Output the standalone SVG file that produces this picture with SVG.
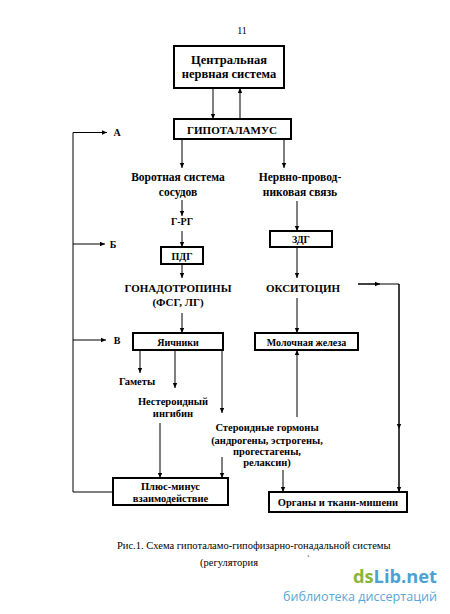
<svg xmlns="http://www.w3.org/2000/svg" width="450" height="614" viewBox="0 0 450 614">
<defs>
<marker id="ah" markerWidth="6" markerHeight="6" refX="5" refY="3" orient="auto" markerUnits="userSpaceOnUse">
<path d="M0,0.8 L5,3 L0,5.2 Z" fill="#000"/>
</marker>
<marker id="mid" markerWidth="6" markerHeight="6" refX="3" refY="3" orient="auto" markerUnits="userSpaceOnUse">
<path d="M0,0.8 L5,3 L0,5.2 Z" fill="#000"/>
</marker>
</defs>
<style>
.box{fill:#fff;stroke:#000;stroke-width:2}
.t{font-family:"Liberation Serif","Times New Roman",serif;font-weight:bold;fill:#000;text-anchor:middle}
.c{stroke:#000;stroke-width:1;fill:none}
.a{stroke:#000;stroke-width:1;fill:none;marker-end:url(#ah)}
.cap{font-family:"Liberation Serif","Times New Roman",serif;fill:#000}
</style>
<rect width="450" height="614" fill="#fff"/>
<text class="cap" x="242" y="34" font-size="10" text-anchor="middle">11</text>

<g id="connectors">
<line class="a" x1="213" y1="88" x2="213" y2="119"/>
<line class="a" x1="240" y1="119" x2="240" y2="88"/>
<line class="a" x1="182" y1="139" x2="182" y2="168"/>
<line class="a" x1="284" y1="139" x2="284" y2="168"/>
<line class="a" x1="182" y1="200" x2="182" y2="216"/>
<line class="a" x1="182" y1="231" x2="182" y2="247"/>
<line class="a" x1="297" y1="201" x2="297" y2="231"/>
<line class="a" x1="182" y1="264" x2="182" y2="278"/>
<line class="a" x1="182" y1="313" x2="182" y2="333"/>
<line class="a" x1="297" y1="247" x2="297" y2="278"/>
<line class="a" x1="297" y1="298" x2="297" y2="333"/>
<path class="c" d="M358,284 H399 V492" />
<path class="c" d="M358,284 H380" marker-end="url(#ah)"/>
<path class="c" d="M399,284 V429" marker-end="url(#ah)"/>
<path class="c" d="M399,429 V492" marker-end="url(#ah)"/>
<path class="c" d="M107,132.5 H73 V492 H113"/>
<line class="a" x1="73" y1="132.5" x2="107" y2="132.5"/>
<line class="a" x1="73" y1="244" x2="105" y2="244"/>
<line class="a" x1="73" y1="340" x2="106" y2="340"/>
<line class="a" x1="140" y1="350" x2="140" y2="373"/>
<line class="a" x1="175" y1="350" x2="175" y2="388"/>
<line class="a" x1="222" y1="350" x2="222" y2="413"/>
<line class="a" x1="160" y1="423" x2="160" y2="478"/>
<line class="a" x1="222" y1="457" x2="222" y2="478"/>
<line class="a" x1="283" y1="470" x2="283" y2="492"/>
<line class="a" x1="297" y1="417" x2="297" y2="350"/>
</g>

<g id="cns"><rect class="box" x="174" y="46" width="110" height="42"/>
<text class="t" x="229" y="64" font-size="12.5">Центральная</text>
<text class="t" x="229" y="78" font-size="12.5">нервная система</text></g>

<g id="hypothalamus"><rect class="box" x="174" y="119" width="117" height="20"/>
<text class="t" x="232" y="134" font-size="11">ГИПОТАЛАМУС</text></g>

<g id="labelA"><text class="t" x="117" y="136" font-size="10">А</text></g>
<g id="labelB"><text class="t" x="113" y="248" font-size="10">Б</text></g>
<g id="labelV"><text class="t" x="117" y="344" font-size="10">В</text></g>

<g id="portal"><text class="t" x="178" y="181" font-size="11.5">Воротная система</text>
<text class="t" x="178" y="196" font-size="11.5">сосудов</text></g>
<g id="nerve"><text class="t" x="300" y="181" font-size="11.5">Нервно-провод-</text>
<text class="t" x="300" y="196" font-size="11.5">никовая связь</text></g>

<g id="grg"><text class="t" x="182" y="225" font-size="10">Г-РГ</text></g>

<g id="pdg"><rect class="box" x="161" y="247" width="42" height="17"/>
<text class="t" x="182" y="259.5" font-size="10">ПДГ</text></g>

<g id="zdg"><rect class="box" x="270" y="231" width="62" height="16"/>
<text class="t" x="301" y="243" font-size="10">ЗДГ</text></g>

<g id="gonadotropins"><text class="t" x="178" y="292" font-size="11">ГОНАДОТРОПИНЫ</text>
<text class="t" x="178" y="306" font-size="11">(ФСГ, ЛГ)</text></g>

<g id="oxytocin"><text class="t" x="303" y="292" font-size="11">ОКСИТОЦИН</text></g>

<g id="ovaries"><rect class="box" x="133" y="333" width="90" height="17"/>
<text class="t" x="178" y="345.5" font-size="10">Яичники</text></g>

<g id="mammary"><rect class="box" x="255" y="333" width="103" height="17"/>
<text class="t" x="306.5" y="345.5" font-size="10">Молочная железа</text></g>

<g id="gametes"><text class="t" x="137" y="385" font-size="10.5">Гаметы</text></g>

<g id="inhibin"><text class="t" x="173" y="405" font-size="10.5">Нестероидный</text>
<text class="t" x="173" y="417" font-size="10.5">ингибин</text></g>

<g id="steroids"><text class="t" x="267" y="431" font-size="10.5">Стероидные гормоны</text>
<text class="t" x="267" y="444" font-size="10.5">(андрогены, эстрогены,</text>
<text class="t" x="267" y="455" font-size="10.5">прогестагены,</text>
<text class="t" x="267" y="466" font-size="10.5">релаксин)</text></g>

<g id="plusminus"><rect class="box" x="113" y="478" width="115" height="27"/>
<text class="t" x="170.5" y="490" font-size="10.5">Плюс-минус</text>
<text class="t" x="170.5" y="502" font-size="10.5">взаимодействие</text></g>

<g id="organs"><rect class="box" x="269" y="492" width="138" height="20"/>
<text class="t" x="338" y="506" font-size="10.5">Органы и ткани-мишени</text></g>

<g id="caption">
<text class="cap" x="117" y="549" font-size="10.5">Рис.1. Схема гипоталамо-гипофизарно-гонадальной системы</text>
<text class="cap" x="200" y="566" font-size="10.5">(регулятория</text>
<text class="cap" x="307" y="562" font-size="8">`</text>
</g>

<g id="watermark">
<text x="353" y="583" font-family="'Open Sans','Noto Sans',sans-serif" font-weight="bold" font-size="18" textLength="84" lengthAdjust="spacingAndGlyphs"><tspan fill="#8cb43c">ds</tspan><tspan fill="#4aa2d3">Lib.net</tspan></text>
<text x="283" y="601" font-family="'Open Sans','Noto Sans',sans-serif" font-size="13" fill="#5aa6d8" textLength="154" lengthAdjust="spacingAndGlyphs">библиотека диссертаций</text>
</g>
</svg>
